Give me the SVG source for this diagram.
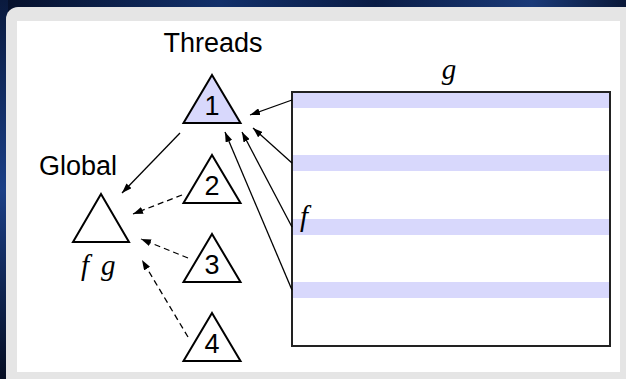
<svg xmlns="http://www.w3.org/2000/svg" width="626" height="379" viewBox="0 0 626 379">
  <defs>
    <linearGradient id="bg" x1="0" y1="0" x2="1" y2="0">
      <stop offset="0" stop-color="#06102a"/>
      <stop offset="0.35" stop-color="#12306a"/>
      <stop offset="0.6" stop-color="#0a1c45"/>
      <stop offset="0.85" stop-color="#1a3a78"/>
      <stop offset="1" stop-color="#0a1838"/>
    </linearGradient>
    <linearGradient id="bgv" x1="0" y1="0" x2="0" y2="1">
      <stop offset="0" stop-color="#0a1a3e"/>
      <stop offset="0.5" stop-color="#1b3f86"/>
      <stop offset="1" stop-color="#050d22"/>
    </linearGradient>
    <marker id="head" viewBox="0 0 10 7" refX="10" refY="3.5" markerWidth="10" markerHeight="7" markerUnits="userSpaceOnUse" orient="auto">
      <path d="M0,0 L10,3.5 L0,7 Z" fill="#000"/>
    </marker>
  </defs>
  <style>
    .sans { font-family: "Liberation Sans", Arial, sans-serif; font-size: 27px; fill: #000; }
    .math { font-family: "Liberation Serif", "Times New Roman", "DejaVu Serif", serif; font-style: italic; font-size: 29px; fill: #000; }
    .tri { stroke: #000; stroke-width: 2; stroke-linejoin: miter; fill: none; }
    .tri.active { fill: #d8d8fc; }
    .stripe { fill: #d8d8fc; }
    .edge { fill: none; stroke: #000; stroke-width: 1.3; marker-end: url(#head); }
    .dash { stroke-dasharray: 6 4; }
  </style>

  <!-- backdrop -->
  <rect x="0" y="0" width="626" height="379" fill="url(#bg)"/>
  <rect x="0" y="0" width="8" height="379" fill="url(#bgv)"/>

  <!-- frame -->
  <rect x="6" y="7" width="640" height="390" rx="12" fill="#e5e5e5"/>
  <rect x="17" y="21" width="603" height="351" fill="#ffffff"/>

  <!-- headings -->
  <text class="sans" x="213" y="52" text-anchor="middle">Threads</text>
  <text class="sans" x="78" y="175" text-anchor="middle">Global</text>

  <!-- shared array g, rows touched by thread 1 -->
  <g id="array">
    <rect class="stripe" x="292" y="92" width="318" height="16"/>
    <rect class="stripe" x="292" y="155" width="318" height="16"/>
    <rect class="stripe" x="292" y="219" width="318" height="16"/>
    <rect class="stripe" x="292" y="282" width="318" height="16"/>
    <rect x="292" y="92" width="318" height="254" fill="none" stroke="#222" stroke-width="2"/>
    <text class="math" x="449" y="79" text-anchor="middle">g</text>
    <text class="math" x="300" y="226">f</text>
  </g>

  <g id="global">
    <polygon class="tri" points="101,194 129,242 73,242"/>
    <text class="math" y="275"><tspan x="81">f</tspan> <tspan x="101">g</tspan></text>
  </g>

  <g id="thread1">
    <polygon class="tri active" points="212,75 240.5,123 183.5,123"/>
    <text class="sans" x="212" y="115" text-anchor="middle">1</text>
  </g>
  <g id="thread2">
    <polygon class="tri" points="212,155 240.5,203 183.5,203"/>
    <text class="sans" x="212" y="195" text-anchor="middle">2</text>
  </g>
  <g id="thread3">
    <polygon class="tri" points="212,234 240.5,282 183.5,282"/>
    <text class="sans" x="212" y="274" text-anchor="middle">3</text>
  </g>
  <g id="thread4">
    <polygon class="tri" points="212,313 240.5,361 183.5,361"/>
    <text class="sans" x="212" y="353" text-anchor="middle">4</text>
  </g>

  <g id="connectors">
    <line class="edge" x1="180" y1="133" x2="122" y2="193"/>
    <line class="edge dash" x1="182" y1="195" x2="133" y2="214"/>
    <line class="edge dash" x1="188" y1="258" x2="141" y2="239"/>
    <line class="edge dash" x1="188" y1="337" x2="142" y2="260"/>
    <line class="edge" x1="292" y1="100" x2="250" y2="115"/>
    <line class="edge" x1="292" y1="163" x2="253" y2="128"/>
    <line class="edge" x1="292" y1="227" x2="242" y2="132"/>
    <line class="edge" x1="292" y1="290" x2="225" y2="132"/>
  </g>
</svg>
